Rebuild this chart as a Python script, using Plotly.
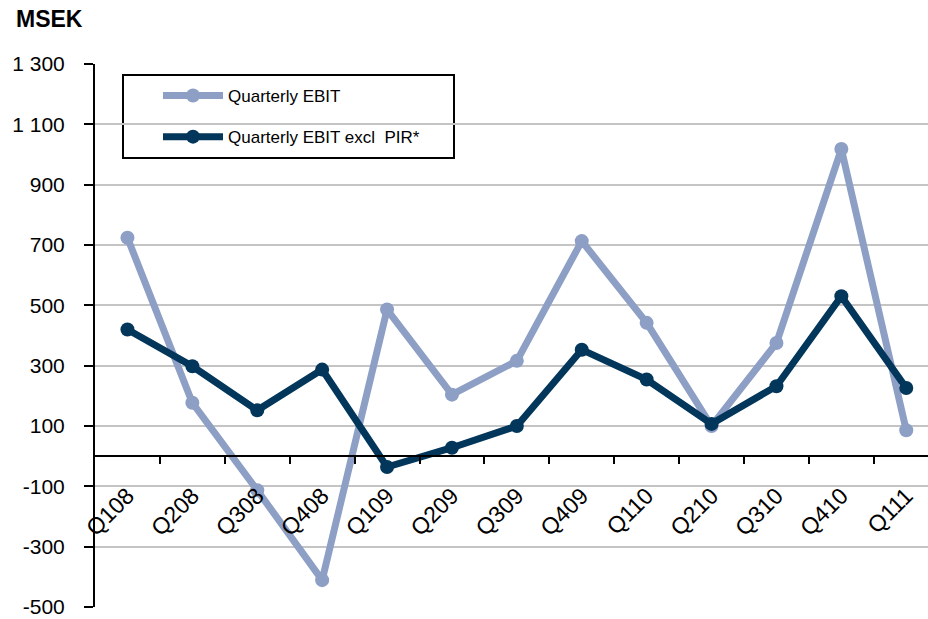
import plotly.graph_objects as go

quarters = ["Q108", "Q208", "Q308", "Q408", "Q109", "Q209", "Q309",
            "Q409", "Q110", "Q210", "Q310", "Q410", "Q111"]
ebit = [724, 177, -113, -411, 486, 204, 316, 713, 442, 100, 375, 1018, 86]
ebit_excl_pir = [420, 298, 152, 287, -36, 28, 100, 353, 254, 107, 232, 530, 226]
y_ticks = [-500, -300, -100, 100, 300, 500, 700, 900, 1100, 1300]
y_tick_text = ["-500", "-300", "-100", "100", "300", "500", "700", "900", "1 100", "1 300"]

LIGHT = "#8D9FC4"
DARK = "#02365A"
FONT = "Liberation Sans, Arial, sans-serif"

x = list(range(len(quarters)))

fig = go.Figure()
fig.add_trace(go.Scatter(
    x=x, y=ebit, mode="lines+markers", name="Quarterly EBIT",
    line=dict(color=LIGHT, width=7), marker=dict(color=LIGHT, size=14),
    legendgroup="a"))
fig.add_trace(go.Scatter(
    x=x, y=ebit_excl_pir, mode="lines+markers", name="Quarterly EBIT excl  PIR*",
    line=dict(color=DARK, width=7), marker=dict(color=DARK, size=14),
    legendgroup="b"))

W, H = 928, 619
L, R, T, B = 95, 0, 64, 12
pw, ph = W - L - R, H - T - B
ymin, ymax = -500, 1300
zero_frac = (0 - ymin) / (ymax - ymin)
px_per_cat = 64.9
xmax = -0.5 + pw / px_per_cat

def px_x(p):
    return (p - L) / pw

def px_y(p):
    return (H - B - p) / ph

fig.update_layout(
    width=W, height=H,
    margin=dict(l=L, r=R, t=T, b=B),
    plot_bgcolor="white", paper_bgcolor="white",
    font=dict(family=FONT, size=21, color="black"),
    xaxis=dict(
        range=[-0.5, xmax], tickmode="array", tickvals=x, ticktext=quarters,
        tickangle=-45, ticks="", showgrid=False, zeroline=False,
        showline=True, linecolor="black", linewidth=2,
        anchor="free", position=zero_frac,
        tickfont=dict(size=23, family=FONT, color="black"),
        ticklabelstandoff=16,
        minor=dict(tickmode="array", tickvals=[i + 0.5 for i in range(len(quarters) - 1)],
                   ticks="outside", ticklen=7, tickwidth=2, tickcolor="black",
                   showgrid=False),
    ),
    yaxis=dict(
        range=[ymin, ymax], tickmode="array", tickvals=y_ticks, ticktext=y_tick_text,
        ticks="outside", ticklen=9, tickwidth=2, tickcolor="black",
        showline=True, linecolor="black", linewidth=2,
        showgrid=True, gridcolor="#C4C4C4", gridwidth=2, zeroline=False,
        tickfont=dict(size=21, family=FONT, color="black"),
        ticklabelstandoff=15,
    ),
    legend=dict(
        x=px_x(158), y=px_y(78), xanchor="left", yanchor="top",
        bgcolor="rgba(0,0,0,0)", borderwidth=0,
        font=dict(family=FONT, size=17, color="black"),
        itemwidth=60, tracegroupgap=16, traceorder="grouped",
    ),
    shapes=[dict(
        type="rect", xref="paper", yref="paper",
        x0=px_x(123), x1=px_x(454), y0=px_y(158), y1=px_y(75),
        line=dict(color="black", width=2), fillcolor="white", layer="between",
    )],
    annotations=[dict(
        text="<b>MSEK</b>", xref="paper", yref="paper",
        x=px_x(14), y=px_y(4), xanchor="left", yanchor="top",
        showarrow=False, font=dict(family=FONT, size=23, color="black"),
    )],
)

fig.write_html("out.html", config={"displayModeBar": False},
               post_script="document.body.style.margin='0';document.body.style.padding='0';")
